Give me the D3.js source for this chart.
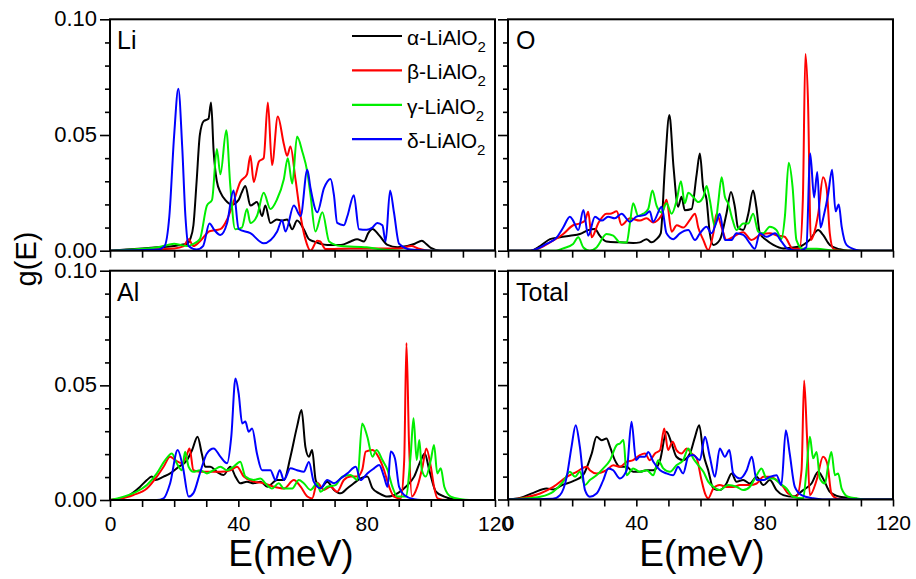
<!DOCTYPE html>
<html>
<head>
<meta charset="utf-8">
<script src="https://cdn.jsdelivr.net/npm/d3@7"></script>
<style>
  body { margin: 0; background: #fff; }
  svg { display: block; font-family: "Liberation Sans", Arial, sans-serif; }
</style>
</head>
<body>
<svg id="chart" width="916" height="579"></svg>
<script>
// phonon DOS g(E) for the four LiAlO2 phases, [E (meV), g]
const liA = [[0,0],[5,0.0005],[10,0.001],[15,0.0015],[20,0.002],[22,0.0025],[24,0.003],[25,0.005],[26,0.011],[27,0.03],[28,0.05],[29.2,0.056],[30.7,0.057],[31.5,0.064],[32.3,0.043],[33.3,0.03],[34.5,0.025],[35.9,0.022],[38,0.02],[40.1,0.022],[41,0.025],[42.2,0.028],[43.75,0.0195],[45.8,0.021],[47.4,0.015],[48.4,0.0195],[50,0.012],[52,0.0135],[53.6,0.013],[55.2,0.0135],[56.8,0.0093],[58.3,0.013],[60.4,0.0093],[62,0.005],[63.5,0.004],[67.7,0.0025],[72,0.0025],[75,0.004],[77,0.005],[79.2,0.004],[80.5,0.0076],[81.8,0.0094],[83.9,0.0066],[86.5,0.0025],[89.6,0.0015],[92.7,0.002],[95,0.003],[97.2,0.0043],[98.5,0.003],[100,0.0012],[103,0],[120,0]];
const liB = [[0,0],[10,0.0005],[20,0.001],[23,0.002],[24.5,0.005],[26,0.002],[28,0.004],[31,0.0084],[34.4,0.0093],[36.5,0.0135],[38.5,0.021],[40.6,0.0297],[42.7,0.033],[43.75,0.041],[44.8,0.0297],[46.4,0.0385],[47.9,0.04],[49.2,0.064],[50.5,0.037],[52.3,0.058],[54.2,0.046],[55.2,0.041],[56.25,0.045],[57.8,0.031],[59.4,0.015],[60.9,0.005],[62.5,0],[64.6,0.0043],[65.5,0.004],[67.2,0.0007],[75,0.001],[90,0.001],[94,0.002],[96,0.001],[100,0],[120,0]];
const liG = [[0,0],[10,0.0008],[15,0.0015],[18,0.0025],[20,0.003],[22,0.0025],[24,0.002],[26,0.003],[28,0.005],[30.2,0.0195],[31.8,0.022],[33.3,0.044],[34.4,0.033],[36.25,0.052],[37.5,0.028],[39,0.0093],[41.1,0.01],[42.7,0.018],[43.75,0.012],[45.8,0.015],[47.9,0.025],[50,0.018],[52,0.022],[54.2,0.031],[55.4,0.04],[56.8,0.029],[58.3,0.0493],[59.9,0.043],[61.5,0.034],[62.5,0.024],[64,0.0083],[66.2,0.0166],[68.3,0.004],[72,0.002],[80,0.0015],[85,0.0005],[90,0],[120,0]];
const liD = [[0,0],[15,0.0005],[17,0.002],[18.5,0.015],[20,0.05],[21.3,0.07],[22.5,0.045],[23.5,0.015],[24.5,0.002],[27,0.0005],[29,0.002],[31,0.0118],[32.5,0.009],[34.4,0.0068],[36.5,0.012],[38.5,0.026],[40.1,0.0094],[43.75,0.0076],[47.9,0.0032],[52.1,0.0083],[53.6,0.0132],[54.7,0.0083],[57.3,0.0195],[59.4,0.015],[61.5,0.035],[62.5,0.027],[64.6,0.0166],[66.7,0.027],[68.75,0.031],[69.8,0.024],[70.8,0.012],[72.9,0.011],[74,0.015],[76,0.024],[77.6,0.0093],[80,0.009],[81.8,0.01],[83.3,0.012],[84.9,0.011],[85.9,0.004],[87.3,0.026],[88.5,0.0166],[90.1,0.003],[93.75,0.0005],[100,0],[120,0]];

const oA = [[0,0],[7,0],[10,0.002],[13.1,0.005],[16.2,0.0058],[19.3,0.0065],[22.4,0.0072],[25,0.0089],[27.1,0.0094],[28.6,0.0065],[30.7,0.004],[34.9,0.0036],[39,0.0033],[41.1,0.0036],[43.2,0.005],[44.7,0.0036],[46.3,0.005],[47.6,0.0075],[48.9,0.036],[50.3,0.0586],[51.6,0.036],[53,0.019],[54.1,0.0233],[55.1,0.0175],[57.2,0.018],[58.8,0.033],[59.8,0.042],[60.8,0.0276],[61.9,0.022],[62.9,0.0075],[64,0.0025],[66,0.0046],[68.1,0.0161],[69.5,0.0254],[70.7,0.019],[71.7,0.01],[73.3,0.0089],[74.9,0.016],[76.4,0.026],[77.4,0.019],[78.5,0.0075],[80.5,0.0046],[82.7,0.0025],[85.8,0.001],[90.9,0.0018],[94,0.0046],[96.7,0.0089],[98.2,0.0068],[100.3,0.0025],[103.4,0.0006],[106,0],[120,0]];
const oB = [[0,0],[7,0],[13.1,0.0036],[17.2,0.0072],[20.3,0.011],[22.4,0.0118],[24,0.013],[25,0.0168],[26.1,0.0058],[28.1,0.0118],[30.7,0.016],[31.8,0.016],[33.9,0.017],[35.4,0.0111],[38,0.014],[41.1,0.013],[43.2,0.014],[45.2,0.0122],[47.9,0.0154],[49.4,0.022],[51,0.0082],[52.6,0.011],[54.6,0.01],[56.7,0.0133],[58.3,0.016],[59.3,0.01],[60.9,0.0046],[62.4,0.0003],[64,0.0075],[65,0.016],[66.6,0.01],[68.1,0.0046],[70.2,0.006],[73.3,0.008],[75.9,0.0046],[78.5,0.0068],[81.6,0.0075],[84,0.0065],[86.2,0.006],[88.8,0.0008],[90.9,0.0008],[91.9,0.022],[92.7,0.085],[93.5,0.065],[94.4,0.0046],[95.5,0.008],[96.7,0.016],[98.2,0.0317],[99.3,0.027],[100.3,0.0075],[101.4,0.0008],[104,0],[120,0]];
const oG = [[0,0],[15,0],[17.2,0.001],[20.3,0.0029],[21.9,0.0058],[23.5,0.0014],[25.5,0],[27.6,0.0014],[30.7,0.0072],[32.8,0.0065],[34.9,0.0036],[37,0.0035],[38,0.0118],[39,0.0205],[40.6,0.015],[42.2,0.016],[43.7,0.018],[45,0.026],[46.3,0.0195],[47.9,0.0165],[49.4,0.0205],[51,0.016],[52.6,0.022],[53.9,0.03],[55.1,0.0205],[56.2,0.025],[57.7,0.0233],[59.3,0.021],[60.9,0.0233],[61.9,0.028],[62.9,0.0219],[64.5,0.0104],[65.5,0.0205],[66.6,0.0317],[67.6,0.0233],[68.6,0.0205],[70,0.0133],[71.2,0.0089],[73.3,0.0118],[74.9,0.0118],[76.4,0.016],[78,0.0082],[79.5,0.0075],[81.6,0.0104],[83.7,0.0089],[85.2,0.005],[86.3,0.0147],[87.5,0.038],[88.7,0.0276],[89.9,0.0046],[91.9,0.0008],[96.2,0.0008],[101.4,0.0001],[104,0],[120,0]];
const oD = [[0,0],[7,0],[12,0.0029],[15.2,0.0058],[17.2,0.01],[19.3,0.0147],[20.3,0.013],[21.9,0.0089],[23.5,0.0176],[25,0.0065],[27.1,0.0147],[29.2,0.013],[31.2,0.0147],[33.3,0.014],[35.4,0.016],[38,0.0125],[40,0.0147],[42.7,0.0155],[44.2,0.017],[45.2,0.0125],[47.9,0.019],[49.4,0.0075],[51.5,0.005],[53.6,0.0075],[56.2,0.0089],[58.3,0.0046],[59.8,0.0075],[61.9,0.0104],[63.4,0.0075],[65,0.0125],[66,0.016],[67.6,0.0046],[69.6,0.0046],[71.2,0.0075],[73.3,0.0068],[75.4,0.0032],[76.9,0.0008],[78.5,0.0075],[80.5,0.006],[83.2,0.0075],[85.2,0.004],[87.3,0.0008],[90.9,0.0001],[93,0.0015],[94.2,0.042],[95.4,0.023],[96.4,0.034],[97.4,0.01],[98.4,0.015],[99.8,0.0245],[101,0.035],[102.1,0.017],[103.1,0.02],[104,0.0104],[105.5,0.0025],[108.6,0.0003],[110,0],[120,0]];

const alA = [[0,0],[5.2,0.0015],[9.4,0.0058],[11.5,0.0087],[13,0.0102],[14.1,0.0087],[16.7,0.0102],[18.75,0.0116],[21.4,0.0145],[24,0.0174],[25.6,0.0218],[27.3,0.0276],[28.6,0.0203],[29.7,0.0145],[31.25,0.0145],[33.3,0.0123],[35.4,0.0109],[37.5,0.0145],[39.1,0.0102],[40.6,0.0073],[42.7,0.008],[44.8,0.0073],[46.9,0.008],[49,0.0058],[52.1,0.0087],[54.2,0.0087],[56.25,0.0189],[58.3,0.032],[59.7,0.0392],[60.9,0.0232],[62,0.0189],[63,0.0218],[64.1,0.0087],[65.6,0.0051],[67.7,0.008],[69.8,0.0044],[71.9,0.0029],[74,0.0051],[76,0.0073],[78.1,0.0094],[80.2,0.0102],[81.8,0.0051],[83.9,0.0029],[86.5,0.0015],[89.6,0.0029],[92.2,0.0058],[94.8,0.0102],[96.9,0.0174],[98.1,0.0203],[99.5,0.0131],[101.6,0.0036],[104.2,0.0015],[107.3,0.0003],[110,0],[120,0]];
const alB = [[0,0],[7.3,0.0022],[11.5,0.005],[14.6,0.0102],[16.7,0.0145],[18.75,0.0189],[20.3,0.0174],[22.4,0.016],[23.75,0.0189],[24.8,0.0225],[26,0.013],[28.1,0.0123],[31.25,0.0123],[34.4,0.0123],[37.5,0.013],[39.6,0.0145],[41.7,0.0102],[44.8,0.008],[47.9,0.0073],[51,0.0058],[54.2,0.005],[57.3,0.0087],[59.4,0.0058],[61.5,0.0015],[63,0.0007],[64.6,0.0075],[66.7,0.0044],[68.75,0.0058],[70.8,0.0036],[72.9,0.0087],[75,0.0102],[77.1,0.0102],[78.6,0.0131],[79.7,0.0211],[81.8,0.0218],[83.9,0.0182],[85.4,0.0131],[87,0.0058],[88.5,0.0015],[90.6,0.0007],[91.7,0.0174],[92.4,0.0685],[93.2,0.0247],[94.1,0.0015],[95.8,0.0058],[97.4,0.0145],[98.6,0.0225],[100,0.0145],[101,0.0058],[102.1,0.0007],[105,0],[120,0]];
const alG = [[0,0],[7.3,0.003],[11.5,0.0065],[14.6,0.0116],[17.2,0.0174],[19.3,0.0203],[20.8,0.016],[22.4,0.013],[23.4,0.021],[24.5,0.0145],[26,0.0123],[28.1,0.013],[30.2,0.0116],[32.3,0.013],[34.4,0.0145],[36.5,0.013],[38.5,0.0145],[40.6,0.0167],[42.2,0.0102],[44.8,0.0087],[46.9,0.0094],[48.4,0.0073],[50.5,0.005],[52.6,0.0073],[54.2,0.005],[56.8,0.005],[58.85,0.0087],[60.4,0.0073],[62.5,0.0044],[64.6,0.0073],[65.6,0.0036],[67.7,0.0058],[70.3,0.0065],[72.4,0.0102],[75,0.0109],[77.1,0.0087],[78.6,0.0334],[80.2,0.0276],[81.8,0.0189],[83.1,0.0218],[84.9,0.0174],[86.5,0.0131],[88,0.0058],[89.6,0.0015],[92.2,0.0015],[93.75,0.0203],[94.6,0.0356],[95.6,0.0174],[96.4,0.0262],[97.2,0.0131],[98.4,0.0102],[100,0.0174],[101,0.024],[102,0.0116],[103.1,0.0138],[104.2,0.0058],[106.2,0.0015],[109.4,0.0003],[112,0],[120,0]];
const alD = [[0,0],[14.6,0],[16.7,0.0007],[18.75,0.0073],[21.1,0.0218],[22.7,0.0145],[24.5,0.0015],[26,0.003],[28.1,0.012],[30.2,0.0203],[32.3,0.0225],[34.4,0.0189],[36.5,0.016],[37.8,0.0276],[39.1,0.053],[40.1,0.0465],[41.2,0.0334],[42.2,0.0342],[43.2,0.0298],[44.3,0.0312],[45.8,0.0203],[47.4,0.013],[50,0.013],[51.6,0.0087],[52.9,0.013],[54.2,0.0087],[56.25,0.0138],[58.3,0.013],[60.4,0.0123],[62,0.0166],[63.5,0.008],[65.6,0.0051],[67.7,0.0087],[69.8,0.0073],[71.9,0.0094],[74,0.0116],[76.6,0.0145],[78.1,0.0087],[80.2,0.0116],[82.3,0.0138],[83.9,0.0153],[85.4,0.0102],[86.5,0.0058],[87.5,0.0211],[88.8,0.0182],[90.1,0.0058],[91.7,0.0022],[94.8,0.0003],[97,0],[120,0]];

const totA = [[0,0],[3.7,0.0007],[7.9,0.0029],[12,0.0048],[14.1,0.0044],[17.2,0.0065],[20.3,0.008],[23.5,0.0109],[26.1,0.0201],[27.6,0.0274],[29.2,0.0259],[30.7,0.0267],[31.8,0.023],[33.3,0.0172],[34.9,0.0143],[37,0.0143],[39,0.0121],[41.1,0.0121],[43.2,0.0128],[45.3,0.0128],[47.4,0.0172],[49.4,0.0296],[51,0.0245],[52.5,0.0187],[54.6,0.0172],[56.7,0.0201],[58.3,0.0274],[59.6,0.0325],[60.9,0.0201],[62.4,0.0128],[64,0.0048],[66,0.0041],[68.1,0.007],[69.7,0.0114],[71.2,0.0078],[73.3,0.0085],[75.4,0.007],[77.5,0.0099],[79.6,0.0063],[81.6,0.0085],[83.7,0.0041],[85.8,0.0019],[88.9,0.0012],[92,0.0041],[94.6,0.007],[96.7,0.0121],[98.2,0.0092],[100.3,0.0034],[103.4,0.0012],[107.6,0.0005],[110,0],[120,0]];
const totB = [[0,0],[5,0.0008],[10,0.0026],[14.1,0.0055],[18.3,0.0099],[21.4,0.0121],[24.5,0.0143],[25.5,0.0128],[27.6,0.0114],[30.7,0.0128],[32.8,0.015],[34.9,0.0143],[37,0.0165],[39,0.0172],[41.1,0.0194],[42.7,0.0201],[44.2,0.0172],[45.8,0.0201],[47.4,0.0216],[48.7,0.031],[49.9,0.0216],[51.3,0.0252],[52.5,0.0216],[54.1,0.0201],[55.7,0.0223],[57.2,0.0201],[58.8,0.018],[60.3,0.0085],[61.4,0.0027],[62.4,0.0005],[64,0.0048],[66,0.0063],[68.1,0.0055],[70.2,0.0055],[72.3,0.0063],[75.4,0.0063],[77.5,0.007],[79.6,0.0099],[81.6,0.0099],[83.7,0.0085],[85.8,0.0055],[87.3,0.0026],[89.9,0.0012],[91.5,0.0128],[92.3,0.052],[93.2,0.0274],[94.1,0.0019],[96.2,0.0085],[98.2,0.0187],[99.5,0.0158],[100.8,0.0026],[102.4,0.0005],[105,0],[120,0]];
const totG = [[0,0],[5,0.0004],[10,0.0012],[14.1,0.0034],[17.2,0.0078],[19.3,0.0121],[20.9,0.0099],[22.4,0.0121],[24,0.0063],[25.5,0.0085],[27.6,0.0106],[29.7,0.0136],[31.8,0.0172],[33.9,0.0238],[34.9,0.0245],[36,0.026],[37,0.0106],[39,0.0136],[41.1,0.0121],[43.2,0.0128],[45.3,0.0106],[46.8,0.0172],[48.4,0.0136],[50.5,0.0121],[52.5,0.015],[54.6,0.0172],[56.2,0.0223],[57.7,0.018],[59.3,0.015],[60.9,0.0121],[62.4,0.0078],[64,0.0056],[66,0.0041],[68.6,0.0063],[71.2,0.0056],[73.3,0.0041],[75.4,0.0056],[77.5,0.0106],[79,0.0136],[80.6,0.0092],[82.7,0.0092],[84.7,0.007],[86.8,0.0048],[88.9,0.0012],[92,0.0005],[93,0.0121],[94.1,0.0274],[95.1,0.018],[96.2,0.0208],[97.2,0.0092],[98.8,0.007],[99.8,0.015],[100.8,0.0208],[101.9,0.0106],[102.9,0.0114],[104,0.0048],[106,0.0012],[108.6,0.0005],[111,0],[120,0]];
const totD = [[0,0],[14,0.0003],[16.2,0.0019],[18.3,0.0099],[19.8,0.023],[21.1,0.0325],[22.4,0.023],[24,0.0041],[25.5,0.0012],[27.6,0.0026],[29.7,0.0085],[31.25,0.0136],[32.8,0.0128],[34.9,0.0092],[37,0.0128],[38.5,0.034],[39.9,0.0172],[41.1,0.0187],[42.7,0.0187],[43.7,0.0208],[45.3,0.0165],[47.4,0.0128],[49.4,0.0114],[51.5,0.0106],[53,0.0143],[54.6,0.0114],[56.2,0.0187],[57.7,0.0194],[59.8,0.0172],[61.4,0.0274],[62.9,0.0187],[64.5,0.0099],[66,0.0223],[67.6,0.0187],[69,0.0216],[70.2,0.0114],[72.3,0.0092],[74.4,0.0128],[76,0.0187],[77.5,0.0085],[79.6,0.0085],[81.6,0.0099],[83.7,0.0106],[85.2,0.0063],[86.6,0.0303],[87.8,0.0201],[89.4,0.0055],[91.5,0.0019],[95.1,0.0005],[98,0],[120,0]];

const phases = ['α', 'β', 'γ', 'δ'];
const colors = ['#000000', '#ff0000', '#00ee00', '#0000ff'];
const panelNames = ['Li', 'O', 'Al', 'Total'];
const xTicks = [0, 10, 20, 30, 40, 50, 60, 70, 80, 90, 100, 110, 120];
const xLabels = [0, 40, 80, 120];
const yMajor = [0, 0.05, 0.10];
const yMinor = [0.01, 0.02, 0.03, 0.04, 0.06, 0.07, 0.08, 0.09];

const panels = [
  {name: 'Li', series: [liA, liB, liG, liD], x0: 110, x1: 495, y0: 250.7, y1: 19.3, left: true, bottom: false},
  {name: 'O', series: [oA, oB, oG, oD], x0: 508, x1: 893, y0: 250.7, y1: 19.3, left: false, bottom: false},
  {name: 'Al', series: [alA, alB, alG, alD], x0: 110, x1: 495, y0: 500, y1: 270.7, left: true, bottom: true},
  {name: 'Total', series: [totA, totB, totG, totD], x0: 508, x1: 893, y0: 499.5, y1: 270.7, left: false, bottom: true}
];

const svg = d3.select('#chart');

panels.forEach(function(p, i) {
  const x = d3.scaleLinear().domain([0, 120]).range([p.x0, p.x1]);
  const y = d3.scaleLinear().domain([0, 0.10]).range([p.y0, p.y1]);

  svg.append('clipPath').attr('id', 'clip' + i)
    .append('rect').attr('x', p.x0).attr('y', p.y1)
    .attr('width', p.x1 - p.x0).attr('height', p.y0 - p.y1);

  const line = d3.line().x(d => x(d[0])).y(d => y(d[1])).curve(d3.curveMonotoneX);

  const g = svg.append('g');
  g.append('g').attr('clip-path', 'url(#clip' + i + ')')
    .selectAll('path').data(p.series).enter().append('path')
    .attr('d', line)
    .attr('fill', 'none')
    .attr('stroke', (d, j) => colors[j])
    .attr('stroke-width', 2)
    .attr('stroke-linejoin', 'round');

  // minor y ticks
  const yMin = g.append('g').attr('transform', 'translate(' + p.x0 + ',0)')
    .call(d3.axisLeft(y).tickValues(yMinor).tickSize(5).tickFormat(''));
  // major y ticks
  const yMaj = g.append('g').attr('transform', 'translate(' + p.x0 + ',0)')
    .call(d3.axisLeft(y).tickValues(yMajor).tickSize(10).tickPadding(3)
      .tickFormat(p.left ? d3.format('.2f') : ''));
  // x ticks
  const xAx = g.append('g').attr('transform', 'translate(0,' + p.y0 + ')')
    .call(d3.axisBottom(x).tickValues(xTicks).tickSize(7).tickPadding(9)
      .tickFormat(d => (p.bottom && xLabels.indexOf(d) >= 0) ? d : ''));

  [yMin, yMaj, xAx].forEach(function(a) {
    a.select('.domain').remove();
    a.selectAll('.tick line').attr('stroke', '#000').attr('stroke-width', 1.6);
    a.selectAll('.tick text').attr('fill', '#000').style('font-size', '21px')
      .style('font-family', '"Liberation Sans", Arial, sans-serif');
  });
  yMaj.selectAll('.tick text').style('font-size', '22px').attr('dy', '0.3em');

  // frame
  g.append('rect')
    .attr('x', p.x0).attr('y', p.y1)
    .attr('width', p.x1 - p.x0).attr('height', p.y0 - p.y1)
    .attr('fill', 'none').attr('stroke', '#000').attr('stroke-width', 2);

  g.append('text')
    .attr('x', p.x0 + (p.left ? 7 : 8))
    .attr('y', p.y1 + 30)
    .style('font-size', '25px')
    .text(p.name);
});

// legend in Li panel
const leg = svg.append('g').attr('transform', 'translate(352,36)');
const rows = leg.selectAll('g').data(phases).enter().append('g')
  .attr('transform', (d, i) => 'translate(0,' + (i * 34.4) + ')');
rows.append('line').attr('x1', 0).attr('x2', 50).attr('y1', 0).attr('y2', 0)
  .attr('stroke', (d, i) => colors[i]).attr('stroke-width', 2.2);
const lt = rows.append('text').attr('x', 55).attr('y', 9).style('font-size', '21px');
lt.append('tspan').text(d => d + '-LiAlO');
lt.append('tspan').attr('dy', 7).style('font-size', '15px').text('2');

// axis titles
svg.append('text').attr('x', 291).attr('y', 566).attr('text-anchor', 'middle')
  .style('font-size', '37px').text('E(meV)');
svg.append('text').attr('x', 702).attr('y', 566).attr('text-anchor', 'middle')
  .style('font-size', '37px').text('E(meV)');
svg.append('text').attr('transform', 'translate(36,259) rotate(-90)')
  .attr('text-anchor', 'middle').style('font-size', '29px').text('g(E)');
</script>
</body>
</html>
